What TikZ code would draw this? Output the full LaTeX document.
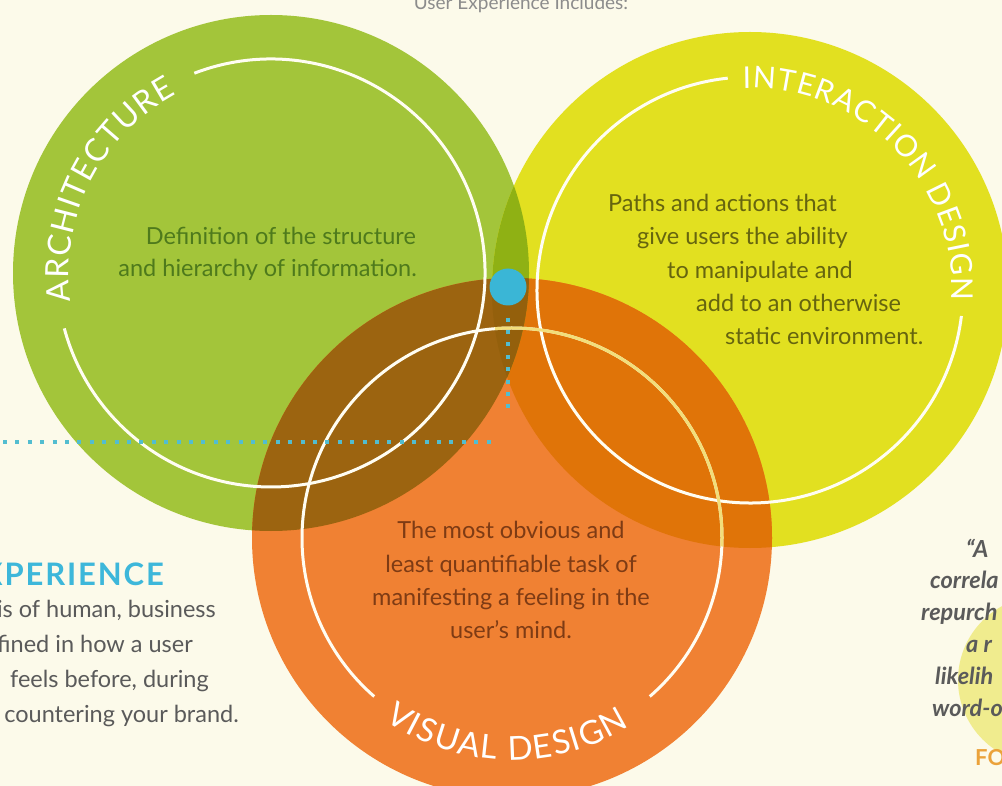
\documentclass[tikz,border=0pt]{standalone}
\usepackage{fontspec}
\setmainfont{Lato}
\usetikzlibrary{decorations.text}

\definecolor{bgcream}{HTML}{FCFAEA}
\definecolor{archgreen}{HTML}{A3C53A}
\definecolor{intyellow}{HTML}{E2E020}
\definecolor{visorange}{HTML}{F08133}
\definecolor{greenyellow}{HTML}{8FB114}
\definecolor{greenorange}{HTML}{9C6410}
\definecolor{yelloworange}{HTML}{E07408}
\definecolor{allthree}{HTML}{94600C}
\definecolor{ringwhite}{HTML}{FFFDF2}
\definecolor{ringyellow}{HTML}{F2DE7A}
\definecolor{hubblue}{HTML}{3AB6D6}
\definecolor{dotblue}{HTML}{52BDD0}
\definecolor{archtext}{HTML}{4E7A1C}
\definecolor{inttext}{HTML}{66650F}
\definecolor{vistext}{HTML}{7E3B14}
\definecolor{greytext}{HTML}{5A5A5A}
\definecolor{xpblue}{HTML}{3DB7DA}
\definecolor{quoteyellow}{HTML}{F0EC8E}
\definecolor{foorange}{HTML}{EBA23A}
\definecolor{toptext}{HTML}{8C8C8C}

\newcommand\bodyfont{\fontsize{23.5}{33}\selectfont}
\newcommand\archfont{\fontsize{32}{32}\selectfont}
\newcommand\intfont{\fontsize{30}{30}\selectfont}
\newcommand\visfont{\fontsize{33}{33}\selectfont}

\tikzset{
  ringline/.style={draw=ringwhite, line width=3pt},
  arclabel/.style={decorate, decoration={text along path, text color=white, text align=fit to path}},
  dotline/.style={draw=dotblue, line width=4pt, dash pattern=on 4pt off 8.4pt},
  archtxt/.style={font=\bodyfont, text=archtext, inner sep=0pt},
  inttxt/.style={font=\bodyfont, text=inttext, inner sep=0pt, anchor=base west},
  vistxt/.style={font=\bodyfont, text=vistext, inner sep=0pt, anchor=base},
  lefttxt/.style={font=\bodyfont, text=greytext, inner sep=0pt, anchor=base east},
  quotetxt/.style={font=\bodyfont\bfseries\itshape, text=greytext, inner sep=0pt, anchor=base west}
}

\begin{document}
\begin{tikzpicture}[x=1pt, y=1pt]
  \useasboundingbox (0,0) rectangle (1002,-786);
  \clip (0,0) rectangle (1002,-786);
  \fill[bgcream] (0,0) rectangle (1002,-786);
  \fill[quoteyellow] (1042,-680) circle[radius=84];

  \coordinate (arch) at (271,-273);
  \coordinate (inter) at (750,-290);
  \coordinate (visual) at (512,-538);

  \fill[archgreen] (arch) circle[radius=258];
  \fill[intyellow] (inter) circle[radius=258];
  \fill[visorange] (visual) circle[radius=260];
  \begin{scope}
    \clip (inter) circle[radius=258];
    \fill[yelloworange] (visual) circle[radius=260];
  \end{scope}
  \begin{scope}
    \clip (arch) circle[radius=258];
    \fill[greenyellow] (inter) circle[radius=258];
    \fill[greenorange] (visual) circle[radius=260];
    \clip (inter) circle[radius=258];
    \fill[allthree] (visual) circle[radius=260];
  \end{scope}

  \draw[ringline] ([shift={(111:214)}]arch) arc[start angle=111, end angle=-165, radius=214];
  \draw[ringline] ([shift={(-7:213)}]inter) arc[start angle=-7, end angle=-264, radius=213];
  \draw[ringline] ([shift={(-49:210)}]visual) arc[start angle=-49, end angle=229, radius=210];
  \begin{scope}
    \clip (inter) circle[radius=258];
    \draw[ringline, draw=ringyellow] ([shift={(-49:210)}]visual) arc[start angle=-49, end angle=229, radius=210];
  \end{scope}

  \path[arclabel, decoration={text={|\archfont|ARCHITECTURE}}]
    ([shift={(188:202)}]arch) arc[start angle=188, end angle=118, radius=202];
  \path[arclabel, decoration={text={|\intfont|INTERACTION DESIGN}}]
    ([shift={(92:202)}]inter) arc[start angle=92, end angle=-3, radius=202];
  \path[arclabel, decoration={text={|\visfont|VISUAL DESIGN}}]
    ([shift={(235:222)}]visual) arc[start angle=235, end angle=302, radius=222];

  \node[archtxt, anchor=base east] (arch1) at (416,-245) {Definition of the structure};
  \node[archtxt, anchor=base east] (arch2) at (417,-277) {and hierarchy of information.};

  \node[inttxt] (int1) at (608,-212) {Paths and actions that};
  \node[inttxt] (int2) at (637,-245) {give users the ability};
  \node[inttxt] (int3) at (667,-279) {to manipulate and};
  \node[inttxt] (int4) at (696,-312) {add to an otherwise};
  \node[inttxt] (int5) at (725,-345) {static environment.};

  \node[vistxt] (vis1) at (511,-538) {The most obvious and};
  \node[vistxt] (vis2) at (511,-572) {least quantifiable task of};
  \node[vistxt] (vis3) at (511,-605) {manifesting a feeling in the};
  \node[vistxt] (vis4) at (511,-638) {user’s mind.};

  \node[circle, fill=hubblue, minimum size=37pt, inner sep=0pt] (hub) at (508,-287) {};
  \coordinate (drop) at (508,-414);
  \coordinate (lineL) at (3,-442);
  \coordinate (lineR) at (494,-442);
  \draw[dotline, shorten <=12pt] (hub) -- (drop);
  \draw[dotline] (lineL) -- (lineR);

  \node[font=\fontsize{19}{19}\selectfont, text=toptext, inner sep=0pt, anchor=base] (top) at (521,-10) {User Experience Includes:};

  \node[font=\fontsize{31}{31}\selectfont\bfseries\addfontfeature{LetterSpace=6}, text=xpblue, inner sep=0pt, anchor=base east] (xp) at (164,-585) {EXPERIENCE};
  \node[lefttxt] (left1) at (216,-617) {is of human, business};
  \node[lefttxt] (left2) at (193,-652) {fined in how a user};
  \node[lefttxt] (left3) at (209,-687) {feels before, during};
  \node[lefttxt] (left4) at (239,-722) {countering your brand.};

  \node[quotetxt] (q1) at (966,-557) {“A};
  \node[quotetxt] (q2) at (930,-588) {correla};
  \node[quotetxt] (q3) at (921,-620) {repurch};
  \node[quotetxt] (q4) at (966,-652) {a r};
  \node[quotetxt] (q5) at (935,-684) {likelih};
  \node[quotetxt] (q6) at (932,-716) {word-o};
  \node[font=\fontsize{22}{22}\selectfont\bfseries, text=foorange, inner sep=0pt, anchor=base west] (fo) at (975,-765) {FO};
\end{tikzpicture}
\end{document}
